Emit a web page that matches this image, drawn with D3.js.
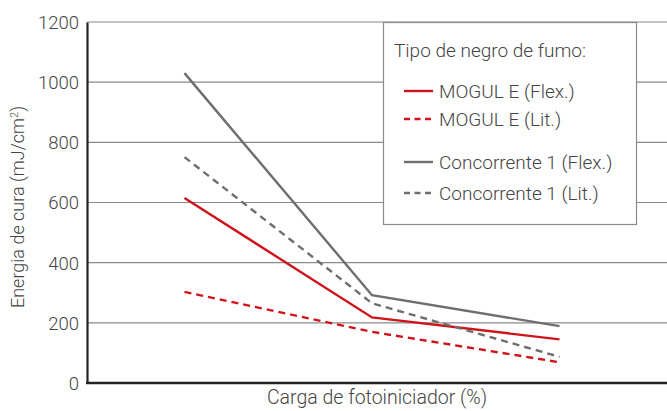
<!DOCTYPE html>
<html><head><meta charset="utf-8">
<script src="https://cdn.jsdelivr.net/npm/d3@7"></script>
<style>body{margin:0;background:#fff}svg{display:block}text{font-family:Roboto,"Open Sans",sans-serif;font-weight:300;fill:#444}</style>
</head><body><svg id="c" width="667" height="411"></svg>
<script>
const categories = ["1", "2", "3"];
const mogulFlex = [615, 218, 145];
const mogulLit = [303, 170, 69];
const concFlex = [1030, 292, 189];
const concLit = [751, 265, 87];
const yTicks = [0, 200, 400, 600, 800, 1000, 1200];
const legendTitle = "Tipo de negro de fumo:";
const series = [
  {name: "MOGUL E (Flex.)", values: mogulFlex, color: "#d0121b", dash: null},
  {name: "MOGUL E (Lit.)", values: mogulLit, color: "#d0121b", dash: "7,5"},
  {name: "Concorrente 1 (Flex.)", values: concFlex, color: "#6e6e6e", dash: null},
  {name: "Concorrente 1 (Lit.)", values: concLit, color: "#6e6e6e", dash: "7,5"}
];
const svg = d3.select("#c");
const L = 87, R = 667, T = 22, B = 383;
const x = d3.scalePoint().domain(categories).range([L, 657]).padding(0.52);
const y = d3.scaleLinear().domain([0, 1200]).range([B, T]);

// gridlines
svg.append("g").selectAll("line").data(yTicks.filter(d => d > 0)).join("line")
  .attr("x1", L).attr("x2", R).attr("y1", d => y(d)).attr("y2", d => y(d))
  .attr("stroke", "#8a8a8a").attr("stroke-width", 1.2);

// y axis
const ya = svg.append("g").attr("transform", `translate(${L},0)`)
  .call(d3.axisLeft(y).tickValues(yTicks).tickFormat(d3.format("d")).tickSize(0).tickPadding(8));
ya.select(".domain").attr("stroke", "#222").attr("stroke-width", 2.2);
ya.selectAll("text").attr("font-size", 18.5).style("font-family", "Roboto").style("font-weight", 300)
  .attr("fill", "#444").attr("dy", "0.35em");

// x axis line
svg.append("line").attr("x1", L - 1).attr("x2", R).attr("y1", B).attr("y2", B)
  .attr("stroke", "#222").attr("stroke-width", 2.4);

// lines
const line = d3.line().x((d, i) => x(categories[i])).y(d => y(d));
series.forEach(s => {
  svg.append("path").attr("d", line(s.values)).attr("fill", "none")
    .attr("stroke", s.color).attr("stroke-width", 2.4)
    .attr("stroke-dasharray", s.dash);
});

// axis titles
const yt = svg.append("text").attr("transform", "translate(24,207) rotate(-90)")
  .attr("text-anchor", "middle").attr("font-size", 18);
yt.append("tspan").text("Energia de cura (mJ/cm");
yt.append("tspan").attr("baseline-shift", "super").attr("font-size", 11).text("2");
yt.append("tspan").text(")");
svg.append("text").attr("x", 377).attr("y", 404).attr("text-anchor", "middle")
  .attr("font-size", 19.5).text("Carga de fotoiniciador (%)");

// legend
const lg = svg.append("g");
lg.append("rect").attr("x", 383.5).attr("y", 22.5).attr("width", 253).attr("height", 202)
  .attr("fill", "#fff").attr("stroke", "#8a8a8a").attr("stroke-width", 1.2);
lg.append("text").attr("x", 394).attr("y", 57).attr("font-size", 19).text(legendTitle);
const ly = [91, 119, 162, 193];
series.forEach((s, i) => {
  lg.append("line").attr("x1", 404).attr("x2", 433).attr("y1", ly[i]).attr("y2", ly[i])
    .attr("stroke", s.color).attr("stroke-width", 2.4).attr("stroke-dasharray", s.dash ? "6,4.5" : null);
  lg.append("text").attr("x", 439).attr("y", ly[i]).attr("dy", "0.35em")
    .attr("font-size", 19).text(s.name);
});
</script></body></html>
